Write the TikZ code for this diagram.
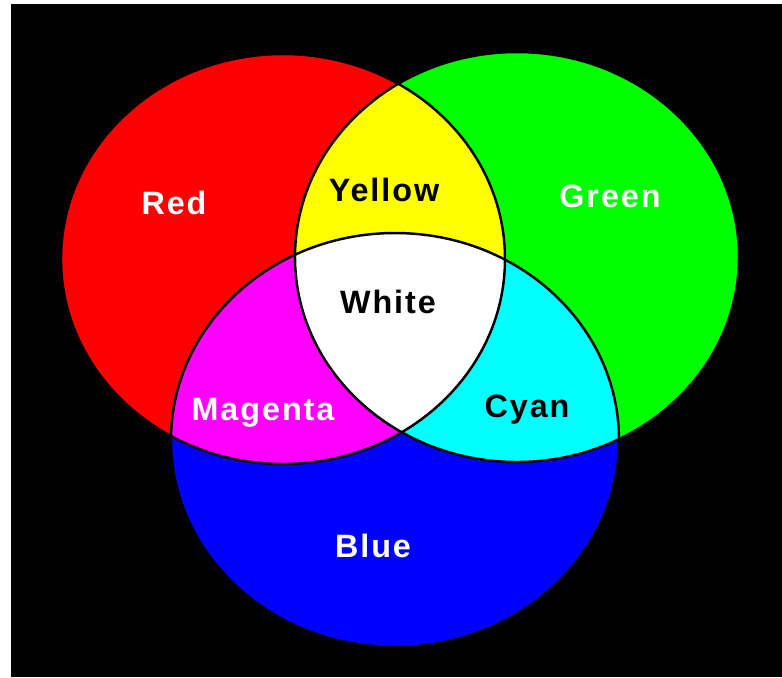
\documentclass[tikz,border=0pt]{standalone}
\usepackage{xcolor}
\definecolor{rgbred}{RGB}{255,0,0}
\definecolor{rgbgreen}{RGB}{0,255,0}
\definecolor{rgbblue}{RGB}{0,0,255}
\definecolor{rgbyellow}{RGB}{255,255,0}
\definecolor{rgbmagenta}{RGB}{255,0,255}
\definecolor{rgbcyan}{RGB}{0,255,255}
\usepackage{fontspec}
\newfontfamily\lblfont{Liberation Sans}[LetterSpace=6]
\usepackage{tikz}

\begin{document}
\begin{tikzpicture}[
  lbl/.style={
    inner sep=0pt, align=center,
    font=\lblfont\bfseries\fontsize{9.2}{11}\selectfont
  },
  lbllight/.style={lbl, text=white},
  lbldark/.style={lbl, text=black},
  rim/.style={draw=black, line width=0.7pt},
]

%% Fondo
\useasboundingbox (0,0) rectangle (7.82,-6.77);
\fill[white] (0,0) rectangle (7.82,-6.77);
\fill[black] (0.11,-0.04) rectangle (7.82,-6.77);

%% Centros
\coordinate (cred)   at (2.83,-2.59);
\coordinate (cgreen) at (5.17,-2.57);
\coordinate (cblue)  at (3.95,-4.40);

%% Circulos primarios
\fill[rgbred]   (cred)   ellipse [x radius=2.22, y radius=2.05];
\fill[rgbgreen] (cgreen) ellipse [x radius=2.22, y radius=2.05];
\fill[rgbblue]  (cblue)  ellipse [x radius=2.24, y radius=2.07];

%% Mezclas
\begin{scope}
  \clip (cred) ellipse [x radius=2.22, y radius=2.05];
  \fill[rgbyellow]  (cgreen) ellipse [x radius=2.22, y radius=2.05];
  \fill[rgbmagenta] (cblue)  ellipse [x radius=2.24, y radius=2.07];
\end{scope}
\begin{scope}
  \clip (cgreen) ellipse [x radius=2.22, y radius=2.05];
  \fill[rgbcyan] (cblue) ellipse [x radius=2.24, y radius=2.07];
\end{scope}
\begin{scope}
  \clip (cred)   ellipse [x radius=2.22, y radius=2.05];
  \clip (cgreen) ellipse [x radius=2.22, y radius=2.05];
  \fill[white] (cblue) ellipse [x radius=2.24, y radius=2.07];
\end{scope}

%% Bordes
\draw[rim] (cred)   ellipse [x radius=2.22, y radius=2.05];
\draw[rim] (cgreen) ellipse [x radius=2.22, y radius=2.05];
\draw[rim] (cblue)  ellipse [x radius=2.24, y radius=2.07];

%% Etiquetas
\node[lbllight] (tred)     at (1.74,-2.03) {Red};
\node[lbldark]  (tyellow)  at (3.84,-1.90) {Yellow};
\node[lbllight] (tgreen)   at (6.10,-1.96) {Green};
\node[lbldark]  (twhite)   at (3.88,-3.02) {White};
\node[lbllight] (tmagenta) at (2.63,-4.13) {Magenta};
\node[lbldark]  (tcyan)    at (5.27,-4.10) {Cyan};
\node[lbllight] (tblue)    at (3.73,-5.46) {Blue};

\end{tikzpicture}
\end{document}
